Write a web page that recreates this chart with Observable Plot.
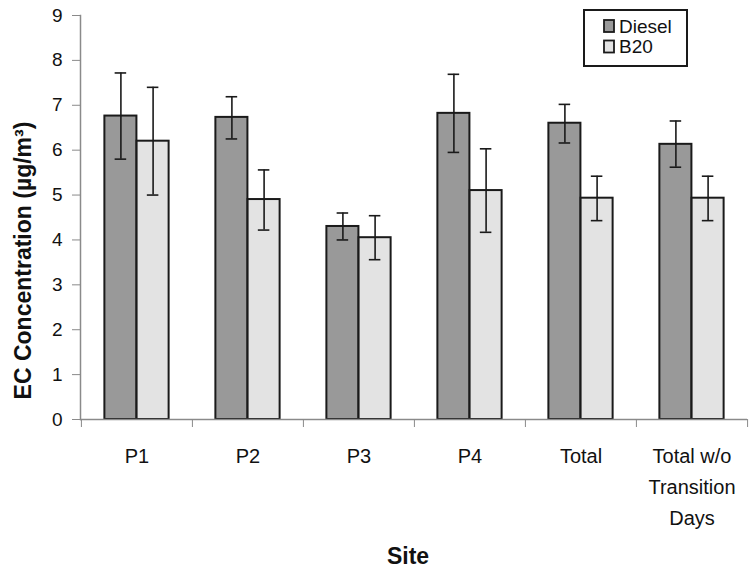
<!DOCTYPE html>
<html>
<head>
<meta charset="utf-8">
<script src="https://cdn.jsdelivr.net/npm/d3@7"></script>
<script src="https://cdn.jsdelivr.net/npm/@observablehq/plot@0.6"></script>
<style>
  body { margin: 0; background: #fff; }
  #wrap { position: relative; width: 754px; height: 572px; font-family: "Liberation Sans", Arial, sans-serif; }
  #wrap > svg { display: block; }
  #legend { position: absolute; left: 583px; top: 9px; }
</style>
</head>
<body>
<div id="wrap"></div>
<script>
// ---- data ----
const sites = ["P1", "P2", "P3", "P4", "Total", "Total w/o Transition Days"];
const siteLabels = ["P1", "P2", "P3", "P4", "Total", "Total w/o\nTransition\nDays"];
const series = ["Diesel", "B20"];
const seriesColors = ["#999999", "#e3e3e3"];
const dieselMean = [6.76, 6.73, 4.30, 6.82, 6.60, 6.13];
const dieselHigh = [7.72, 7.19, 4.60, 7.69, 7.02, 6.65];
const dieselLow  = [5.80, 6.25, 4.00, 5.95, 6.16, 5.62];
const b20Mean = [6.20, 4.90, 4.05, 5.10, 4.93, 4.93];
const b20High = [7.40, 5.56, 4.54, 6.03, 5.42, 5.42];
const b20Low  = [5.00, 4.22, 3.56, 4.17, 4.43, 4.43];
const yTicks = [0, 1, 2, 3, 4, 5, 6, 7, 8, 9];
const yTitle = "EC Concentration (µg/m³)";
const xTitle = "Site";

const diesel = sites.map((s, i) => ({site: s, fuel: series[0], mean: dieselMean[i], lo: dieselLow[i], hi: dieselHigh[i]}));
const b20 = sites.map((s, i) => ({site: s, fuel: series[1], mean: b20Mean[i], lo: b20Low[i], hi: b20High[i]}));

// ---- layout ----
const W = 754, H = 572, mL = 80, mR = 7, mT = 15, mB = 153;
const step = (W - mL - mR) / sites.length;
const half = step / 2;
const barW = 32.2;
const capW = 11.7;
const axisGray = "#8a8a8a";
const ink = "#1a1a1a";

const chart = Plot.plot({
  width: W, height: H,
  marginLeft: mL, marginRight: mR, marginTop: mT, marginBottom: mB,
  style: {fontFamily: "'Liberation Sans', Arial, sans-serif", background: "#fff", color: "#111"},
  x: {domain: sites, padding: 0, axis: null, label: null},
  y: {domain: [0, 9], axis: null, label: null},
  marks: [
    Plot.barY(diesel, {x: "site", y: "mean", fill: seriesColors[0], stroke: ink, strokeWidth: 2,
      insetLeft: half - barW, insetRight: half}),
    Plot.barY(b20, {x: "site", y: "mean", fill: seriesColors[1], stroke: ink, strokeWidth: 2,
      insetLeft: half, insetRight: half - barW}),
    Plot.ruleY([0], {stroke: axisGray, strokeWidth: 1.5}),
    Plot.frame({anchor: "left", stroke: axisGray, strokeWidth: 1.5}),
    Plot.axisY({ticks: yTicks, tickSize: 8, tickPadding: 10, fontSize: 19, stroke: axisGray, fill: "#111", label: null}),
    Plot.axisX({tickSize: 0, tickPadding: 21, fontSize: 20, lineHeight: 1.55, fill: "#111", label: null,
      tickFormat: (d) => siteLabels[sites.indexOf(d)]}),
    Plot.axisX({tickSize: 8, tickFormat: () => "", dx: -half, stroke: axisGray, label: null}),
    Plot.axisX({ticks: [sites[sites.length - 1]], tickSize: 8, tickFormat: () => "", dx: half, stroke: axisGray, label: null}),
    // error bars
    Plot.ruleX(diesel, {x: "site", y1: "lo", y2: "hi", dx: -barW / 2, stroke: ink, strokeWidth: 1.6}),
    Plot.ruleX(b20, {x: "site", y1: "lo", y2: "hi", dx: barW / 2, stroke: ink, strokeWidth: 1.6}),
    Plot.tickY(diesel, {x: "site", y: "hi", stroke: ink, strokeWidth: 1.6,
      insetLeft: half - barW / 2 - capW / 2, insetRight: half + barW / 2 - capW / 2}),
    Plot.tickY(diesel, {x: "site", y: "lo", stroke: ink, strokeWidth: 1.6,
      insetLeft: half - barW / 2 - capW / 2, insetRight: half + barW / 2 - capW / 2}),
    Plot.tickY(b20, {x: "site", y: "hi", stroke: ink, strokeWidth: 1.6,
      insetLeft: half + barW / 2 - capW / 2, insetRight: half - barW / 2 - capW / 2}),
    Plot.tickY(b20, {x: "site", y: "lo", stroke: ink, strokeWidth: 1.6,
      insetLeft: half + barW / 2 - capW / 2, insetRight: half - barW / 2 - capW / 2}),
    // titles
    Plot.text([yTitle], {frameAnchor: "left", rotate: -90, dx: -57, dy: 43, textAnchor: "middle", lineAnchor: "middle",
      fontSize: 23, fontWeight: "bold", fill: "#111"}),
    Plot.text([xTitle], {frameAnchor: "bottom", dx: -6, dy: 137, textAnchor: "middle", lineAnchor: "middle",
      fontSize: 23, fontWeight: "bold", fill: "#111"})
  ]
});

const wrap = document.getElementById("wrap");
wrap.appendChild(chart);

// ---- legend ----
const ns = "http://www.w3.org/2000/svg";
const leg = document.createElementNS(ns, "svg");
leg.setAttribute("id", "legend");
leg.setAttribute("width", 106);
leg.setAttribute("height", 59);
const box = document.createElementNS(ns, "rect");
box.setAttribute("x", 1); box.setAttribute("y", 1);
box.setAttribute("width", 103); box.setAttribute("height", 56);
box.setAttribute("fill", "#fff"); box.setAttribute("stroke", ink); box.setAttribute("stroke-width", 2);
leg.appendChild(box);
series.forEach((name, i) => {
  const r = document.createElementNS(ns, "rect");
  r.setAttribute("x", 21); r.setAttribute("y", 11 + i * 20.5);
  r.setAttribute("width", 10); r.setAttribute("height", 12);
  r.setAttribute("fill", seriesColors[i]); r.setAttribute("stroke", ink); r.setAttribute("stroke-width", 1.8);
  leg.appendChild(r);
  const t = document.createElementNS(ns, "text");
  t.setAttribute("x", 36); t.setAttribute("y", 24 + i * 19.5);
  t.setAttribute("font-size", 19);
  t.setAttribute("font-family", "'Liberation Sans', Arial, sans-serif");
  t.setAttribute("fill", "#111");
  t.textContent = name;
  leg.appendChild(t);
});
wrap.appendChild(leg);
</script>
</body>
</html>
